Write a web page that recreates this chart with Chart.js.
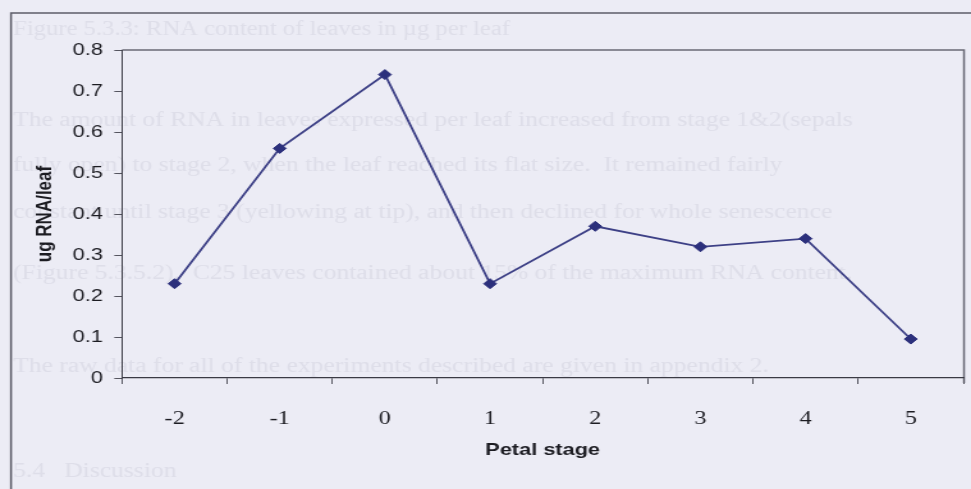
<!DOCTYPE html>
<html>
<head>
<meta charset="utf-8">
<title>RNA per leaf</title>
<script src="https://cdn.jsdelivr.net/npm/chart.js@4/dist/chart.umd.min.js"></script>
<style>
  html, body { margin: 0; padding: 0; background: #ececf5; }
  #wrap { width: 971px; height: 489px; }
  #rnaChart { display: block; width: 971px; height: 489px; }
</style>
</head>
<body>
<div id="wrap">
  <canvas id="rnaChart" width="759" height="489" style="width:971px;height:489px"></canvas>
</div>
<script>
"use strict";

// data
var stages = ['-2', '-1', '0', '1', '2', '3', '4', '5'];
var rnaPerLeaf = [0.23, 0.56, 0.74, 0.23, 0.37, 0.32, 0.34, 0.095];
var yTicks = [0, 0.1, 0.2, 0.3, 0.4, 0.5, 0.6, 0.7, 0.8];

// faint page text showing through the scan
var pageLines = [
	'Figure 5.3.3: RNA content of leaves in \u00b5g per leaf',
	'The amount of RNA in leaves expressed per leaf increased from stage 1&2(sepals',
	'fully open) to stage 2, when the leaf reached its flat size.  It remained fairly',
	'constant until stage 3 (yellowing at tip), and then declined for whole senescence',
	'(Figure 5.3.5.2).  C25 leaves contained about 15% of the maximum RNA content.',
	'The raw data for all of the experiments described are given in appendix 2.',
	'5.4   Discussion'
];

// the scan is wider than it is tall, so the canvas is stretched sideways
var S = 971 / 759;

var pagePlugin = {
	id: 'page',
	beforeDraw: function(chart) {
		var ctx = chart.ctx;
		ctx.save();
		ctx.fillStyle = '#ececf5';
		ctx.fillRect(0, 0, chart.width, chart.height);

		var ys = [30, 121, 166, 213, 274, 367, 472];
		var ends = [510, 945, 905, 950, 940, 860, 180];
		ctx.fillStyle = '#dedee9';
		ctx.font = '20px "Liberation Serif"';
		ctx.textBaseline = 'middle';
		pageLines.forEach(function(line, i) {
			var w = (ends[i] - 13) / S;
			ctx.fillText(line, 13 / S, ys[i], w);
		});

		// outer frame of the chart object
		ctx.strokeStyle = '#5c5c68';
		ctx.lineWidth = 1.5;
		ctx.beginPath();
		ctx.moveTo(11 / S, chart.height);
		ctx.lineTo(11 / S, 13);
		ctx.lineTo(chart.width, 13);
		ctx.stroke();

		// plot area frame, top and right side
		ctx.strokeStyle = '#6a6a76';
		ctx.lineWidth = 1.5;
		ctx.beginPath();
		ctx.moveTo(122 / S, 50);
		ctx.lineTo(964 / S, 50);
		ctx.lineTo(964 / S, 383);
		ctx.stroke();
		ctx.restore();
	}
};

var ctx = document.getElementById('rnaChart').getContext('2d');
var myLineChart = new Chart(ctx, {
	type: 'line',
	data: {
		labels: stages,
		datasets: [
			{
				label: 'RNA per leaf',
				data: rnaPerLeaf,
				fill: false,
				tension: 0,
				borderColor: '#3d4086',
				borderWidth: 1.8,
				pointStyle: 'rectRot',
				pointRadius: 5,
				pointBackgroundColor: '#2c307c',
				pointBorderColor: '#2c307c',
				pointBorderWidth: 1
			}
		]
	},
	options: {
		responsive: false,
		animation: false,
		devicePixelRatio: 1,
		layout: { padding: { top: 50, right: 6 / S, left: 0, bottom: 0 } },
		plugins: {
			legend: { display: false },
			tooltip: { enabled: false }
		},
		scales: {
			x: {
				type: 'category',
				offset: true,
				afterFit: function(scale) { scale.height = 111; },
				grid: {
					offset: true,
					drawOnChartArea: false,
					drawTicks: true,
					tickLength: 6,
					color: '#55555f'
				},
				border: { color: '#3a3a44', width: 1.3 },
				ticks: {
					padding: 24,
					color: '#1c1c22',
					font: { family: '"Liberation Serif"', size: 19 }
				},
				title: {
					display: true,
					text: 'Petal stage',
					color: '#1c1c22',
					font: { family: '"Liberation Sans"', size: 17, weight: 'bold' },
					padding: { top: 0, bottom: 28 }
				}
			},
			y: {
				min: 0,
				max: 0.8,
				afterFit: function(scale) { scale.width = 122 / S; },
				afterBuildTicks: function(scale) {
					scale.ticks = yTicks.map(function(v) { return { value: v }; });
				},
				grid: {
					drawOnChartArea: false,
					drawTicks: true,
					tickLength: 6,
					color: '#55555f'
				},
				border: { color: '#3a3a44', width: 1 },
				ticks: {
					padding: 9,
					color: '#1c1c22',
					font: { family: '"Liberation Sans"', size: 17 },
					callback: function(v) { return String(Math.round(v * 10) / 10); }
				},
				title: {
					display: true,
					text: 'ug RNA/leaf',
					color: '#1c1c22',
					font: { family: '"Liberation Sans"', size: 17, weight: 'bold' },
					padding: { top: 25, bottom: 0 }
				}
			}
		}
	},
	plugins: [pagePlugin]
});
</script>
</body>
</html>
